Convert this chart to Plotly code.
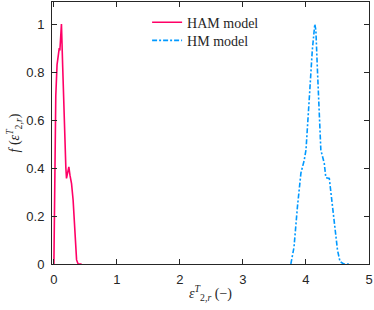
import plotly.graph_objects as go

ham_x = [0.0, 0.008, 0.016, 0.03, 0.05, 0.07, 0.085, 0.095, 0.11, 0.12, 0.14, 0.165, 0.19, 0.2, 0.215, 0.237, 0.255, 0.28, 0.305, 0.33, 0.36, 0.385, 0.44]
ham_y = [0.0, 0.25, 0.475, 0.7, 0.83, 0.88, 0.9, 0.89, 0.95, 1.0, 0.82, 0.55, 0.4, 0.357, 0.38, 0.405, 0.37, 0.335, 0.267, 0.13, 0.017, 0.0, 0.0]

hm_x = [3.76, 3.81, 3.865, 3.92, 3.97, 4.0, 4.05, 4.10, 4.14, 4.157, 4.18, 4.21, 4.236, 4.29, 4.315, 4.37, 4.39, 4.45, 4.5, 4.54, 4.6, 4.68]
hm_y = [0.0, 0.07, 0.24, 0.38, 0.43, 0.475, 0.68, 0.89, 1.0, 0.975, 0.82, 0.64, 0.475, 0.42, 0.36, 0.357, 0.31, 0.155, 0.058, 0.01, 0.0, 0.0]

x_ticks = [0, 1, 2, 3, 4, 5]
y_ticks = [0, 0.2, 0.4, 0.6, 0.8, 1]
y_tick_text = ["0", "0.2", "0.4", "0.6", "0.8", "1"]

fig = go.Figure()
fig.add_trace(go.Scatter(x=ham_x, y=ham_y, mode="lines", name="HAM model",
                         legend="legend",
                         line=dict(color="#FF0066", width=1.6)))
fig.add_trace(go.Scatter(x=hm_x, y=hm_y, mode="lines", name="HM model",
                         legend="legend2",
                         line=dict(color="#0099FF", width=1.6, dash="5px,2px,2px,2px")))

axcol = "#262626"
leg_common = dict(x=0.3, xanchor="left", yanchor="middle",
                  bgcolor="rgba(255,255,255,0)", borderwidth=0,
                  font=dict(family="Liberation Serif", size=14, color=axcol),
                  itemwidth=30)
fig.update_layout(
    width=374, height=310,
    margin=dict(l=52, r=5, t=2, b=46, autoexpand=False),
    plot_bgcolor="white", paper_bgcolor="white",
    font=dict(family="Liberation Sans", size=13, color=axcol),
    showlegend=True,
    legend=dict(y=0.921, **leg_common),
    legend2=dict(y=0.852, **leg_common),
    xaxis=dict(range=[-0.03, 5], tickvals=x_ticks, ticks="inside", ticklen=5,
               tickcolor=axcol, showline=True, linecolor=axcol, linewidth=1,
               mirror="ticks", showgrid=False, zeroline=False, automargin=False,
               ticklabelstandoff=3,
               title=dict(text="<i>ε</i><sup><i>T</i></sup><sub>2,<i>r</i></sub> (−)",
                          font=dict(family="Liberation Serif", size=14), standoff=2)),
    yaxis=dict(range=[0, 1.092], tickvals=y_ticks, ticktext=y_tick_text,
               ticks="inside", ticklen=5, tickcolor=axcol, showline=True,
               linecolor=axcol, linewidth=1, mirror="ticks", showgrid=False,
               zeroline=False, automargin=False, ticklabelstandoff=4,
               title=dict(text="<i>f</i> (<i>ε</i><sup><i>T</i></sup><sub>2,<i>r</i></sub>)",
                          font=dict(family="Liberation Serif", size=14), standoff=3)),
)
fig.write_html("out.html", config={"displayModeBar": False},
               post_script="document.body.style.margin='0';")
